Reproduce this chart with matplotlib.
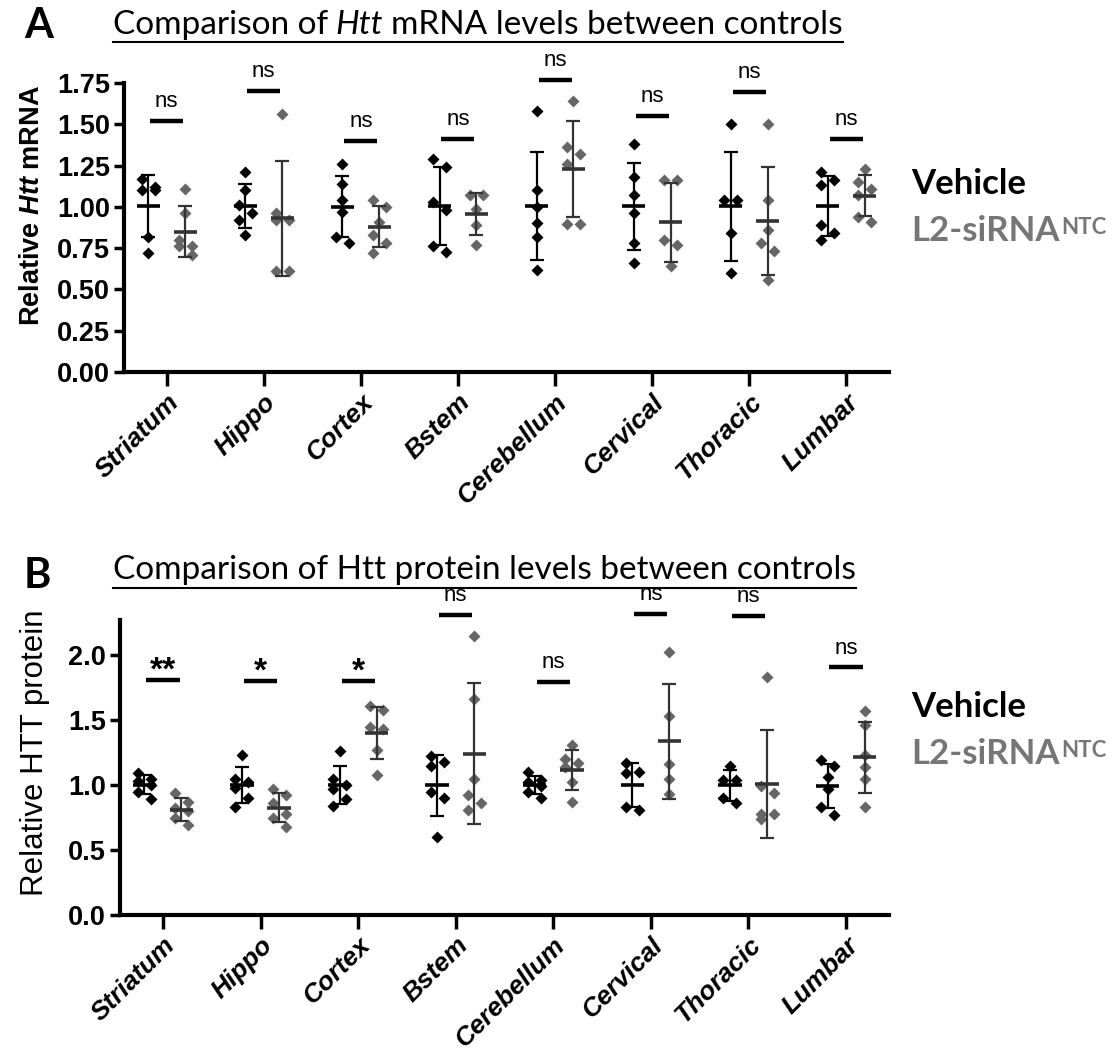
import numpy as np
import matplotlib
matplotlib.use('Agg')
import matplotlib.pyplot as plt
from matplotlib.lines import Line2D
from matplotlib.text import Annotation

# ---- data ----
regions = ['Striatum', 'Hippo', 'Cortex', 'Bstem', 'Cerebellum', 'Cervical', 'Thoracic', 'Lumbar']

mrna_vehicle = [
    [1.17, 1.12, 1.10, 1.10, 0.82, 0.72],
    [1.21, 1.10, 1.01, 0.96, 0.92, 0.83],
    [1.26, 1.14, 1.04, 0.97, 0.82, 0.78],
    [1.29, 1.24, 1.03, 0.98, 0.76, 0.725],
    [1.58, 1.10, 1.00, 0.90, 0.82, 0.62],
    [1.38, 1.18, 1.07, 0.96, 0.78, 0.66],
    [1.50, 1.04, 1.04, 0.84, 0.60],
    [1.21, 1.16, 1.13, 0.89, 0.84, 0.80],
]
mrna_ntc = [
    [1.11, 0.96, 0.80, 0.76, 0.76, 0.71],
    [1.56, 0.96, 0.92, 0.92, 0.61, 0.61],
    [1.04, 1.00, 0.91, 0.83, 0.78, 0.72],
    [1.07, 1.07, 0.99, 0.89, 0.77],
    [1.64, 1.36, 1.32, 1.26, 0.895, 0.895],
    [1.16, 1.16, 0.80, 0.77, 0.64],
    [1.50, 1.04, 0.86, 0.78, 0.735, 0.56],
    [1.23, 1.15, 1.11, 1.07, 0.94, 0.91],
]
mrna_sig_y = [1.52, 1.70, 1.40, 1.41, 1.77, 1.55, 1.695, 1.41]
mrna_sig = ['ns', 'ns', 'ns', 'ns', 'ns', 'ns', 'ns', 'ns']

prot_vehicle = [
    [1.09, 1.05, 1.03, 1.00, 0.95, 0.89],
    [1.23, 1.05, 1.02, 0.98, 0.90, 0.83],
    [1.26, 1.05, 1.00, 0.97, 0.89, 0.84],
    [1.22, 1.18, 1.15, 0.95, 0.90, 0.60],
    [1.10, 1.04, 1.02, 0.99, 0.95, 0.90],
    [1.17, 1.10, 1.09, 0.83, 0.81],
    [1.15, 1.04, 1.04, 0.90, 0.86],
    [1.19, 1.15, 1.06, 0.97, 0.83, 0.77],
]
prot_ntc = [
    [0.94, 0.87, 0.82, 0.80, 0.75, 0.69],
    [0.97, 0.92, 0.86, 0.78, 0.75, 0.68],
    [1.61, 1.58, 1.45, 1.43, 1.27, 1.08],
    [2.15, 1.66, 1.05, 0.92, 0.86, 0.81],
    [1.31, 1.20, 1.17, 1.14, 1.02, 0.87],
    [2.02, 1.53, 1.16, 1.05, 0.93],
    [1.83, 0.99, 0.94, 0.78, 0.78, 0.74],
    [1.57, 1.46, 1.23, 1.14, 1.05, 0.83],
]
prot_sig_y = [1.81, 1.80, 1.80, 2.31, 1.795, 2.32, 2.30, 1.905]
prot_sig = ['**', '*', '*', 'ns', 'ns', 'ns', 'ns', 'ns']

GRAY = '#666666'
TXT_GRAY = '#767676'

plt.rcParams['font.family'] = 'Liberation Sans'
plt.rcParams['mathtext.fontset'] = 'custom'
plt.rcParams['mathtext.it'] = 'Liberation Sans:italic:bold'
plt.rcParams['mathtext.rm'] = 'Liberation Sans:bold'

W, H = 1118, 1059
fig = plt.figure(figsize=(W / 100, H / 100), dpi=100)


def fx(x):
    return x / W


def fy(y):
    return 1 - y / H


def zigzag(v, sy, gap_px=11, half_px=6.5):
    # spread points that overlap vertically into two columns (like Prism)
    order = np.argsort(-v)
    clusters = [[order[0]]]
    for a, b in zip(order[:-1], order[1:]):
        if (v[a] - v[b]) * sy < gap_px:
            clusters[-1].append(b)
        else:
            clusters.append([b])
    off = np.zeros(len(v))
    for cl in clusters:
        if len(cl) > 1:
            for k, idx in enumerate(cl):
                off[idx] = -half_px if k % 2 == 0 else half_px
    return off


def draw_panel(ax, veh, ntc, sig_y, sig_txt, ylim, yticks, yfmt):
    ax.set_xlim(-0.44, 7.44)
    ax.set_ylim(*ylim)
    sx = ax.bbox.width / 7.88
    sy = ax.bbox.height / (ylim[1] - ylim[0])
    for i in range(len(regions)):
        for vals, dx, mcol, bcol in [(veh[i], -0.19, 'black', 'black'),
                                     (ntc[i], 0.19, GRAY, '#333333')]:
            v = np.array(vals)
            c = i + dx
            xs = c + zigzag(v, sy) / sx
            ax.plot(xs, v, 'D', ms=6.6, color=mcol, mec='none', zorder=2, clip_on=False)
            m = v.mean()
            s = v.std(ddof=1)
            ax.errorbar(c, m, yerr=s, fmt='none', ecolor=bcol, elinewidth=1.6,
                        capsize=5, capthick=1.6, zorder=3)
            ax.hlines(m, c - 0.12, c + 0.12, color=bcol, lw=2.6, zorder=3)
        ax.hlines(sig_y[i], i - 0.17, i + 0.17, color='black', lw=3.2, clip_on=False)
        if sig_txt[i] == 'ns':
            ax.annotate('ns', (i, sig_y[i]), xytext=(0, 10), textcoords='offset points',
                        ha='center', va='baseline', fontsize=16, annotation_clip=False)
        else:
            ax.annotate(sig_txt[i], (i, sig_y[i]), xytext=(0, 0.5), textcoords='offset points',
                        ha='center', va='baseline', fontsize=24, fontweight='bold',
                        annotation_clip=False)

    ax.set_xticks(range(len(regions)))
    ax.set_xticklabels(regions, rotation=45, ha='right', rotation_mode='anchor',
                       fontsize=19, fontweight='bold', fontstyle='italic')
    ax.set_yticks(yticks)
    ax.set_yticklabels([yfmt.format(t) for t in yticks], fontsize=19.5, fontweight='bold')
    for s in ['top', 'right']:
        ax.spines[s].set_visible(False)
    for s in ['left', 'bottom']:
        ax.spines[s].set_linewidth(3)
    ax.tick_params(axis='x', length=10, width=2.5, pad=3)
    ax.tick_params(axis='y', length=7, width=2.5, pad=3)


ax_a = fig.add_axes([fx(124), fy(372), 765 / W, 289 / H])
draw_panel(ax_a, mrna_vehicle, mrna_ntc, mrna_sig_y, mrna_sig, (0, 1.75),
           [0, 0.25, 0.5, 0.75, 1.0, 1.25, 1.5, 1.75], '{:.2f}')

ax_b = fig.add_axes([fx(120), fy(915), 769 / W, 295 / H])
draw_panel(ax_b, prot_vehicle, prot_ntc, prot_sig_y, prot_sig, (0, 2.27),
           [0, 0.5, 1.0, 1.5, 2.0], '{:.1f}')

# y labels
fig.text(fx(32), fy(206), r'Relative $Htt$ mRNA', rotation=90, ha='center', va='center',
         fontsize=19.5, fontweight='bold')
fig.text(fx(35), fy(753), 'Relative HTT protein', rotation=90, ha='center', va='center',
         fontsize=22.5)

# panel letters
fig.text(fx(24), fy(38), 'A', fontsize=30, fontweight='bold', family='Lato', va='baseline')
fig.text(fx(24), fy(588), 'B', fontsize=30, fontweight='bold', family='Lato', va='baseline')

# titles (underlined), italic gene name chained after the first part
TFS = 24
sp = 5.5
title_a = [('Comparison of', 'normal'), ('Htt', 'italic'), ('mRNA levels between controls', 'normal')]
title_b = [('Comparison of Htt protein levels between controls', 'normal')]

titles = []
for parts, ybase, yline in [(title_a, 34, 42), (title_b, 579, 588)]:
    t0 = fig.text(fx(113), fy(ybase), parts[0][0], fontsize=TFS, family='Lato',
                  fontstyle=parts[0][1], va='baseline')
    last = t0
    for txt, style in parts[1:]:
        last = fig.add_artist(Annotation(
            txt, xy=(1, 0), xycoords=last, xytext=(sp, 0), textcoords='offset points',
            fontsize=TFS, family='Lato', fontstyle=style, va='bottom', ha='left'))
    titles.append((t0, last, yline))

# legends
for yv, yl in [(194, 241), (717, 764)]:
    fig.text(fx(911), fy(yv), 'Vehicle', fontsize=25, fontweight='bold', family='Lato',
             va='baseline')
    t = fig.text(fx(911), fy(yl), 'L2-siRNA', fontsize=25, fontweight='bold', family='Lato',
                 va='baseline', color=TXT_GRAY)
    fig.add_artist(Annotation(
        'NTC', xy=(1, 0.93), xycoords=t, xytext=(1, 0), textcoords='offset points',
        fontsize=16, fontweight='bold', family='Lato', color=TXT_GRAY, va='top', ha='left'))

fig.canvas.draw()
r = fig.canvas.get_renderer()
for t0, last, yline in titles:
    x0 = t0.get_window_extent(r).x0
    x1 = last.get_window_extent(r).x1
    fig.add_artist(Line2D([x0 / W, x1 / W], [fy(yline), fy(yline)], color='black', lw=1.5))

fig.savefig('out.png', dpi=100)
